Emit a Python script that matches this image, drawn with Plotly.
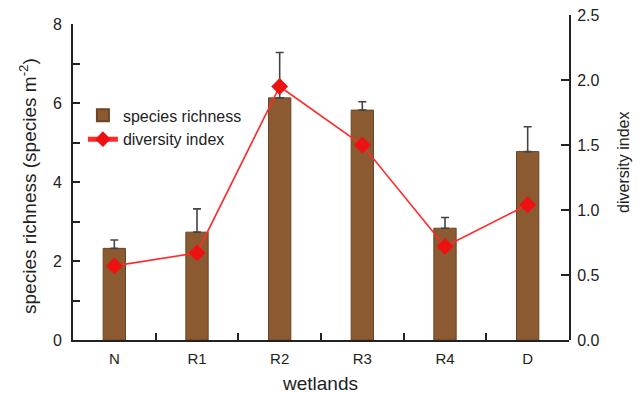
import plotly.graph_objects as go

wetlands = ["N", "R1", "R2", "R3", "R4", "D"]
richness = [2.32, 2.73, 6.13, 5.82, 2.83, 4.77]
richness_err = [0.21, 0.59, 1.15, 0.21, 0.27, 0.63]
diversity = [0.57, 0.67, 1.95, 1.50, 0.72, 1.04]

left_ticks = [0, 2, 4, 6, 8]
right_ticks = [0.0, 0.5, 1.0, 1.5, 2.0, 2.5]

FONT = "Liberation Sans, Arial, sans-serif"
TXT = "#222222"
AX = "#222222"

fig = go.Figure()
fig.add_trace(go.Bar(
    x=wetlands, y=richness, name="species richness",
    width=0.27,
    marker=dict(color="#8c5a30", line=dict(color="#6e4424", width=1)),
    error_y=dict(type="data", array=richness_err, arrayminus=[0]*len(richness_err),
                 symmetric=False, color="#444444", thickness=1.6, width=4),
    xaxis="x", yaxis="y",
))
fig.add_trace(go.Scatter(
    x=wetlands, y=diversity, name="diversity index", mode="lines+markers",
    line=dict(color="#ff2a2a", width=1.6),
    marker=dict(symbol="diamond", size=13, color="#ee1111"),
    xaxis="x2", yaxis="y2",
))

H = 393
top_px = 15
bot_px = 340
left_top_px = 24
ydom_top = (bot_px - left_top_px) / (bot_px - top_px)

fig.update_layout(
    width=644, height=393,
    margin=dict(l=73, r=75, t=top_px, b=H - bot_px, autoexpand=False),
    paper_bgcolor="white", plot_bgcolor="rgba(0,0,0,0)",
    font=dict(family=FONT, color=TXT, size=16),
    showlegend=True,
    legend=dict(x=0.02, y=0.654, xanchor="left", yanchor="middle",
                bgcolor="rgba(0,0,0,0)", font=dict(size=16, color=TXT),
                tracegroupgap=0, itemwidth=30, itemsizing="constant"),
    xaxis=dict(domain=[0, 1], range=[-0.5, 5.5], type="category",
               categoryorder="array", categoryarray=wetlands,
               showline=True, linecolor=AX, linewidth=2, mirror=False,
               ticks="inside", tickson="boundaries", ticklen=7, tickwidth=2, tickcolor=AX,
               tickfont=dict(size=15, color=TXT), ticklabelstandoff=4,
               showgrid=False, zeroline=False, automargin=False,
               anchor="y"),
    yaxis=dict(domain=[0, ydom_top], range=[0, 8],
               tickvals=left_ticks,
               showline=True, linecolor=AX, linewidth=2,
               ticks="inside", ticklen=7, tickwidth=2, tickcolor=AX,
               minor=dict(dtick=1, ticks="inside", ticklen=7, tickwidth=2, tickcolor=AX,
                          showgrid=False),
               tickfont=dict(size=16, color=TXT), ticklabelstandoff=6,
               showgrid=False, zeroline=False, automargin=False,
               anchor="x"),
    xaxis2=dict(domain=[0, 1], range=[-0.5, 5.5], type="category",
                categoryorder="array", categoryarray=wetlands,
                visible=False, anchor="y2", automargin=False),
    yaxis2=dict(domain=[0, 1], range=[0, 2.5], side="right",
                tickvals=right_ticks, tickformat=".1f",
                showline=True, linecolor=AX, linewidth=2,
                ticks="inside", ticklen=8, tickwidth=2, tickcolor=AX,
                tickfont=dict(size=16, color=TXT), ticklabelstandoff=3,
                showgrid=False, zeroline=False, automargin=False,
                anchor="x2"),
    annotations=[
        dict(text="wetlands", xref="paper", yref="paper", x=0.498, y=-0.135,
             xanchor="center", yanchor="middle", showarrow=False,
             font=dict(size=19, color=TXT)),
        dict(text="species richness (species m<sup>-2</sup>)", xref="paper", yref="paper",
             x=-0.0907, y=0.474, xanchor="center", yanchor="middle", showarrow=False,
             textangle=-90, font=dict(size=19, color=TXT)),
        dict(text="diversity index", xref="paper", yref="paper",
             x=1.111, y=0.545, xanchor="center", yanchor="middle", showarrow=False,
             textangle=-90, font=dict(size=16, color=TXT)),
    ],
)

fig.write_html("out.html")
